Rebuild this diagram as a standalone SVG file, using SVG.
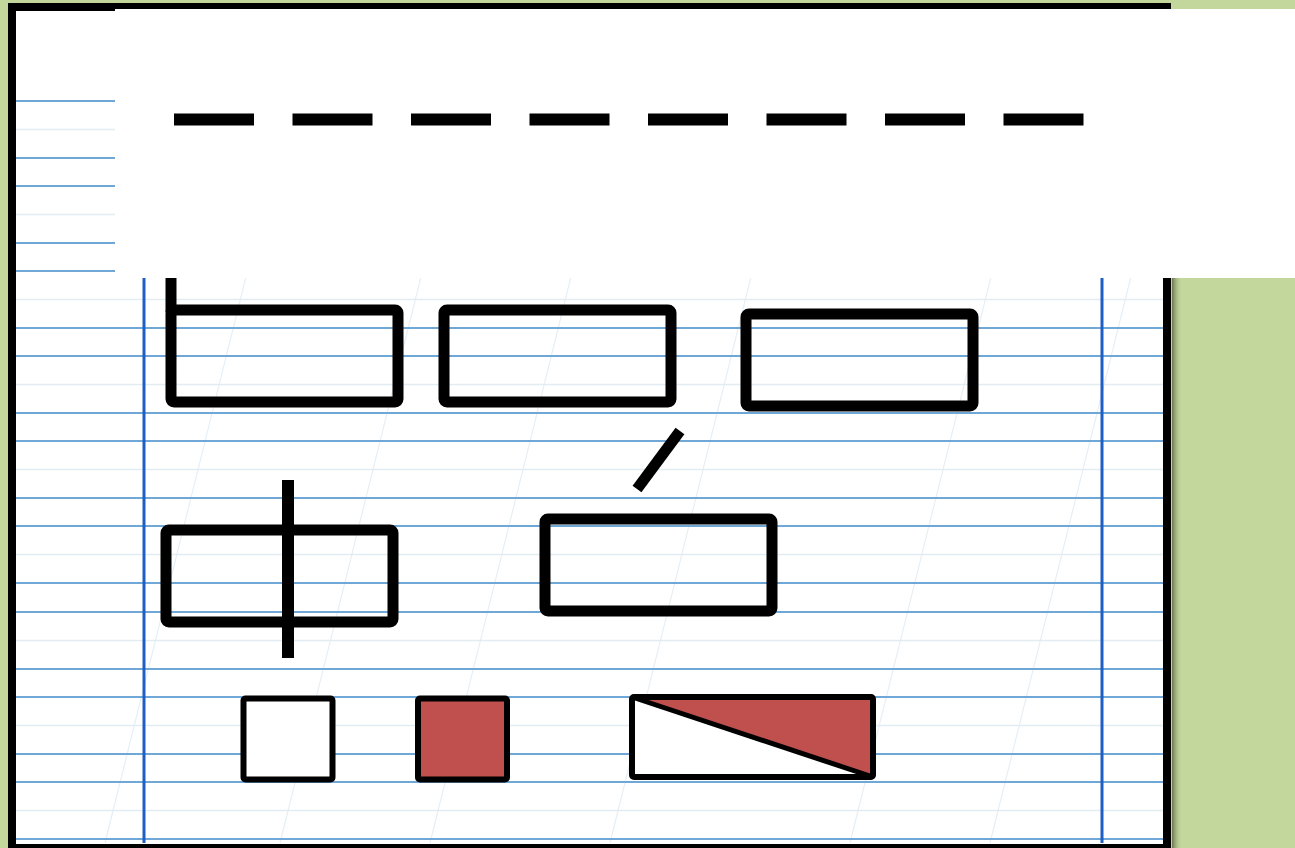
<svg xmlns="http://www.w3.org/2000/svg" width="1295" height="848" viewBox="0 0 1295 848">
<defs>
<linearGradient id="shadow" x1="0" x2="1" y1="0" y2="0">
<stop offset="0" stop-color="#5f6b45" stop-opacity="0.9"/>
<stop offset="1" stop-color="#c3d69b" stop-opacity="0"/>
</linearGradient>
<style>
.rule{stroke:#6fa8d6;stroke-width:2}
.faint{stroke:#e2ecf3;stroke-width:1.5}
.slant{stroke:#e6eff6;stroke-width:1.2}
.margin{stroke:#1f5fc4;stroke-width:3}
.box{fill:none;stroke:#000;stroke-width:11;stroke-linejoin:round}
.sq{stroke:#000;stroke-width:6;stroke-linejoin:round}
.bar{stroke:#000;stroke-width:11}
</style>
</defs>
<rect x="0" y="0" width="1295" height="848" fill="#c3d69b"/>
<rect x="1172" y="10" width="10" height="838" fill="url(#shadow)"/>
<g id="paper">
<rect x="12" y="7" width="1155" height="841" fill="#fff" stroke="#000" stroke-width="8"/>
<g id="slants">
<line class="slant" x1="105" y1="843" x2="300" y2="60"/>
<line class="slant" x1="280" y1="843" x2="475" y2="60"/>
<line class="slant" x1="430" y1="843" x2="625" y2="60"/>
<line class="slant" x1="610" y1="843" x2="805" y2="60"/>
<line class="slant" x1="850" y1="843" x2="1045" y2="60"/>
<line class="slant" x1="990" y1="843" x2="1165" y2="140"/>
</g>
<g id="rules">
<line class="rule" x1="16" y1="101" x2="1163" y2="101"/>
<line class="faint" x1="16" y1="129.5" x2="1163" y2="129.5"/>
<line class="rule" x1="16" y1="158" x2="1163" y2="158"/>
<line class="rule" x1="16" y1="186" x2="1163" y2="186"/>
<line class="faint" x1="16" y1="214.5" x2="1163" y2="214.5"/>
<line class="rule" x1="16" y1="243" x2="1163" y2="243"/>
<line class="rule" x1="16" y1="271" x2="1163" y2="271"/>
<line class="faint" x1="16" y1="299.5" x2="1163" y2="299.5"/>
<line class="rule" x1="16" y1="328" x2="1163" y2="328"/>
<line class="rule" x1="16" y1="356" x2="1163" y2="356"/>
<line class="faint" x1="16" y1="384.5" x2="1163" y2="384.5"/>
<line class="rule" x1="16" y1="413" x2="1163" y2="413"/>
<line class="rule" x1="16" y1="441" x2="1163" y2="441"/>
<line class="faint" x1="16" y1="469.5" x2="1163" y2="469.5"/>
<line class="rule" x1="16" y1="498" x2="1163" y2="498"/>
<line class="rule" x1="16" y1="526" x2="1163" y2="526"/>
<line class="faint" x1="16" y1="554.5" x2="1163" y2="554.5"/>
<line class="rule" x1="16" y1="583" x2="1163" y2="583"/>
<line class="rule" x1="16" y1="612" x2="1163" y2="612"/>
<line class="faint" x1="16" y1="640.5" x2="1163" y2="640.5"/>
<line class="rule" x1="16" y1="669" x2="1163" y2="669"/>
<line class="rule" x1="16" y1="697" x2="1163" y2="697"/>
<line class="faint" x1="16" y1="725.5" x2="1163" y2="725.5"/>
<line class="rule" x1="16" y1="754" x2="1163" y2="754"/>
<line class="rule" x1="16" y1="782" x2="1163" y2="782"/>
<line class="faint" x1="16" y1="810.5" x2="1163" y2="810.5"/>
<line class="rule" x1="16" y1="839" x2="1163" y2="839"/>
</g>
<line class="margin" x1="144" y1="11" x2="144" y2="843"/>
<line class="margin" x1="1102" y1="11" x2="1102" y2="843"/>
</g>
<g id="node-r1"><rect class="box" x="171" y="310" width="227" height="92" rx="3"/></g>
<g id="node-r2"><rect class="box" x="444" y="310" width="227" height="92" rx="3"/></g>
<g id="node-r3"><rect class="box" x="746" y="314" width="227" height="92" rx="3"/></g>
<g id="node-r4"><rect class="box" x="166" y="530" width="227" height="92" rx="3"/></g>
<g id="node-r5"><rect class="box" x="545" y="519" width="227" height="92" rx="3"/></g>
<g id="connectors">
<line class="bar" x1="171" y1="270" x2="171" y2="312"/>
<line class="bar" x1="680" y1="431" x2="637" y2="489"/>
<line stroke="#000" stroke-width="12" x1="288" y1="480" x2="288" y2="658"/>
</g>
<g id="node-s1"><rect class="sq" fill="#fff" x="243.5" y="698.5" width="89" height="81" rx="2"/></g>
<g id="node-s2"><rect class="sq" fill="#c0504d" x="418" y="698.5" width="89" height="81" rx="2"/></g>
<g id="node-s3">
<rect fill="#fff" x="632" y="697" width="241" height="80"/>
<polygon fill="#c0504d" points="632,697 873,697 873,777"/>
<line stroke="#000" stroke-width="5" x1="632" y1="697" x2="873" y2="777"/>
<rect class="sq" fill="none" x="632" y="697" width="241" height="80" rx="2"/>
</g>
<g id="overlay">
<rect x="115" y="9" width="1180" height="269" fill="#fff"/>
<line stroke="#000" stroke-width="12" stroke-dasharray="80 38.5" x1="174" y1="119.5" x2="1085" y2="119.5"/>
</g>
</svg>
